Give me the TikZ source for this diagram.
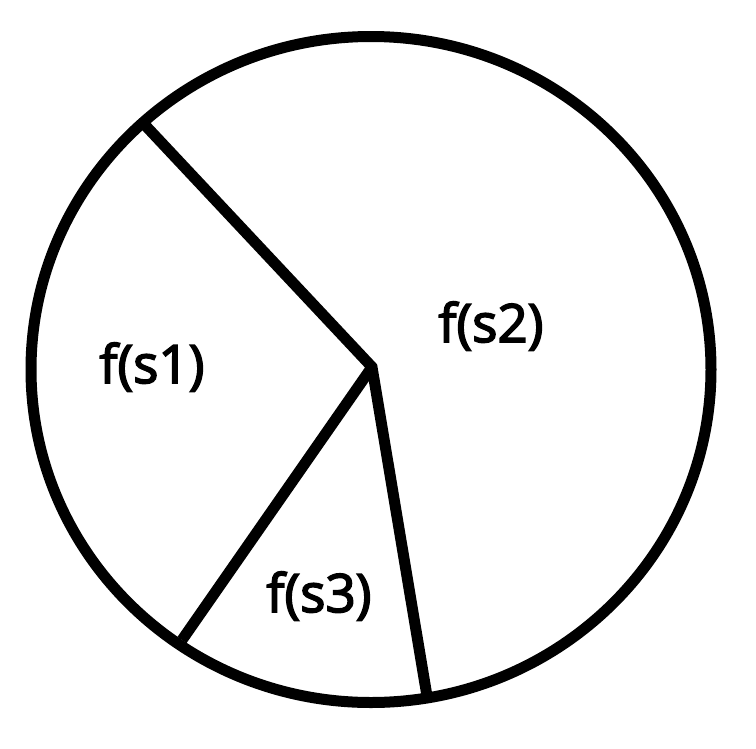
\documentclass[tikz,border=0pt]{standalone}
\usepackage{fontspec}
\setmainfont{Open Sans}
\newfontfamily\lblfont{Open Sans}[FakeBold=3]
\begin{document}
\begin{tikzpicture}[x=1pt,y=-1pt,
  stroke/.style={line width=11pt,black},
  lbl/.style={inner sep=0pt,font=\lblfont\fontsize{53}{60}\selectfont}]
\useasboundingbox (0,0) rectangle (756,748);
\coordinate (c) at (372,367);
\coordinate (p1) at (144,124);
\coordinate (p2) at (182,640);
\coordinate (p3) at (428,702);
\draw[stroke] (371,369.5) ellipse [x radius=340, y radius=333];
\draw[stroke,line join=miter] (p1) -- (c) -- (p3);
\draw[stroke] (c) -- (p2);
\node[lbl] (s1) at (152,367) {f(s1)};
\node[lbl] (s2) at (491,326) {f(s2)};
\node[lbl] (s3) at (319,596) {f(s3)};
\end{tikzpicture}
\end{document}
